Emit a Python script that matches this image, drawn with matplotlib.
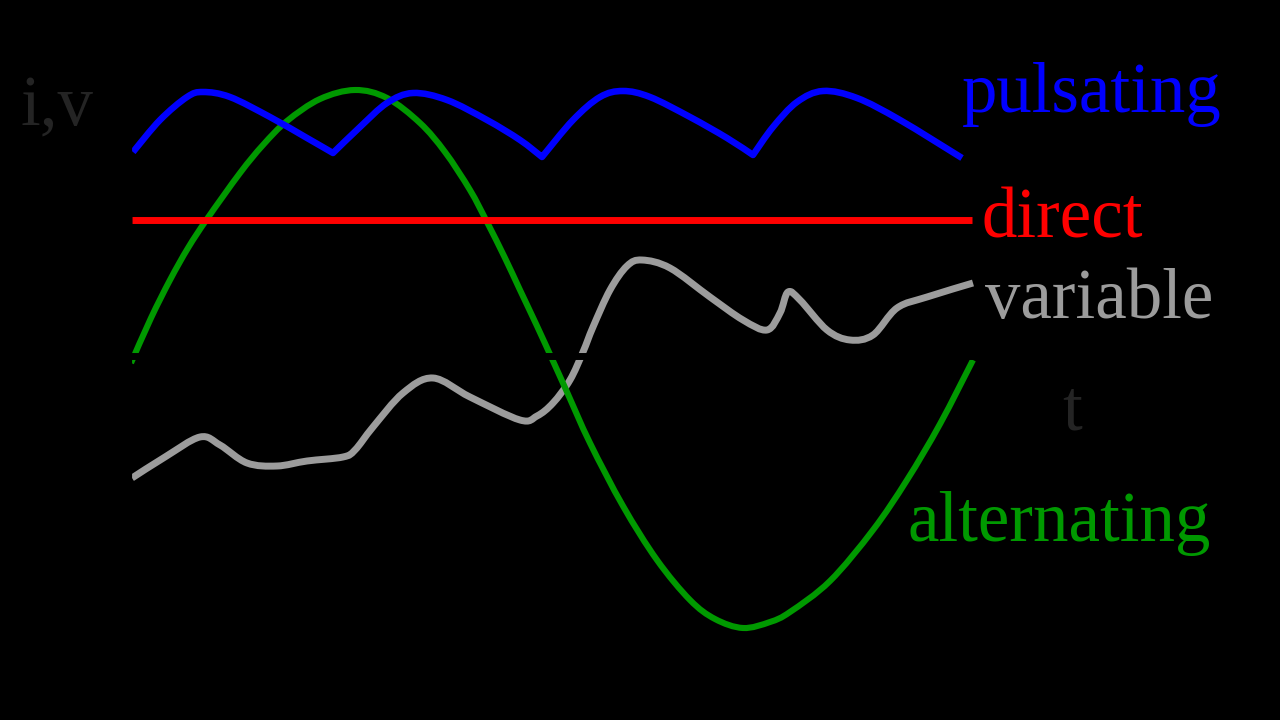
import matplotlib
matplotlib.use("Agg")
import matplotlib.pyplot as plt
from matplotlib.path import Path
from matplotlib.patches import PathPatch

# time t (px-like units from the vertical axis), value v (up positive from time axis)
pulsating_t = [3, 30, 57, 73, 100, 140, 177, 203,
               230, 257, 283, 317, 357, 390, 412,
               443, 470, 493, 520, 560, 597, 623,
               643, 667, 693, 727, 770, 832]
pulsating_v = [206, 238, 261, 266, 261, 241, 220, 205,
               231, 255, 265, 258, 238, 218, 201,
               238, 261, 267, 261, 241, 220, 203,
               231, 256, 267, 260, 238, 200]
pulsating_cusps = [7, 14, 21]

direct_t = [2, 842]
direct_v = [138, 138]

alternating_t = [1, 21, 40, 58, 77, 110, 133, 157, 190, 225, 257, 290, 315, 340, 357,
                 375, 390, 407, 423, 437, 460, 493, 527, 560, 585, 613, 640, 660,
                 700, 743, 777, 810, 843]
alternating_v = [-5, 40, 78, 110, 139, 185, 213, 237, 259, 268, 260, 235, 206, 168, 136,
                 100, 68, 32, -3, -34, -85, -148, -202, -242, -261, -270, -264, -254,
                 -223, -172, -122, -66, -2]

variable_t = [2, 35, 70, 90, 117, 147, 177, 213, 225, 243, 273, 303, 340, 390, 407,
              423, 440, 453, 463, 480, 497, 512, 540, 580, 613, 637, 650, 658, 670,
              697, 720, 743, 767, 797, 843]
variable_v = [-120, -99, -79, -87, -105, -108, -103, -99, -92, -69, -35, -20, -39, -62, -58,
              -45, -22, 6, 31, 68, 92, 98, 90, 61, 38, 28, 45, 66, 58,
              28, 18, 23, 50, 61, 75]

labels = ["pulsating", "direct", "variable", "alternating"]
label_pos = [(832, 246), (852, 121), (855, 40), (778, -183)]
colors = ["#0000ff", "#ff0000", "#9c9c9c", "#009900"]


def smooth_path(xs, ys, corners=()):
    """Cubic Bezier path through the given points (Catmull-Rom tangents)."""
    pts = list(zip(xs, ys))
    n = len(pts)

    def tangent(i):
        if i == 0:
            return ((pts[1][0] - pts[0][0]) / 2, (pts[1][1] - pts[0][1]) / 2)
        if i == n - 1:
            return ((pts[-1][0] - pts[-2][0]) / 2, (pts[-1][1] - pts[-2][1]) / 2)
        if i in corners:
            return None
        return ((pts[i + 1][0] - pts[i - 1][0]) / 2, (pts[i + 1][1] - pts[i - 1][1]) / 2)

    verts = [pts[0]]
    codes = [Path.MOVETO]
    for i in range(n - 1):
        p0, p1 = pts[i], pts[i + 1]
        t0, t1 = tangent(i), tangent(i + 1)
        if t0 is None:
            t0 = ((p1[0] - p0[0]) / 2, (p1[1] - p0[1]) / 2)
        if t1 is None:
            t1 = ((p1[0] - p0[0]) / 2, (p1[1] - p0[1]) / 2)
        c1 = (p0[0] + t0[0] / 3, p0[1] + t0[1] / 3)
        c2 = (p1[0] - t1[0] / 3, p1[1] - t1[1] / 3)
        verts += [c1, c2, p1]
        codes += [Path.CURVE4] * 3
    return Path(verts, codes)


fig = plt.figure(figsize=(12.8, 7.2), dpi=100, facecolor="black")
ax = fig.add_axes([0, 0, 1, 1])
ax.set_facecolor("black")
ax.set_xlim(-130, 1150)
ax.set_ylim(-362, 358)
ax.axis("off")

pkw = dict(fill=False, joinstyle="round", capstyle="butt")
ax.add_patch(PathPatch(smooth_path(variable_t, variable_v), edgecolor=colors[2],
                       lw=5.0, zorder=2, **pkw))
ax.add_patch(PathPatch(smooth_path(alternating_t, alternating_v), edgecolor=colors[3],
                       lw=4.4, zorder=3, **pkw))
ax.plot(direct_t, direct_v, color=colors[1], lw=5.0, zorder=4, solid_capstyle="butt")
ax.add_patch(PathPatch(smooth_path(pulsating_t, pulsating_v, pulsating_cusps),
                       edgecolor=colors[0], lw=4.7, zorder=5, **pkw))

# black axes drawn over the curves
ax.plot([-2, 900], [2, 2], color="black", lw=5.0, zorder=6, solid_capstyle="butt")
ax.plot([0, 0], [-330, 300], color="black", lw=3.0, zorder=6, solid_capstyle="butt")

font = "Liberation Serif"
for lab, (x, y), c in zip(labels, label_pos, colors):
    ax.text(x, y, lab, color=c, fontsize=51, family=font, va="baseline", ha="left", zorder=7)
ax.text(-110, 233, "i,v", color="#242424", fontsize=51, family=font, va="baseline", ha="left")
ax.text(932, -72, "t", color="#242424", fontsize=51, family=font, va="baseline", ha="left")

fig.savefig("out.png", dpi=100, facecolor="black")
